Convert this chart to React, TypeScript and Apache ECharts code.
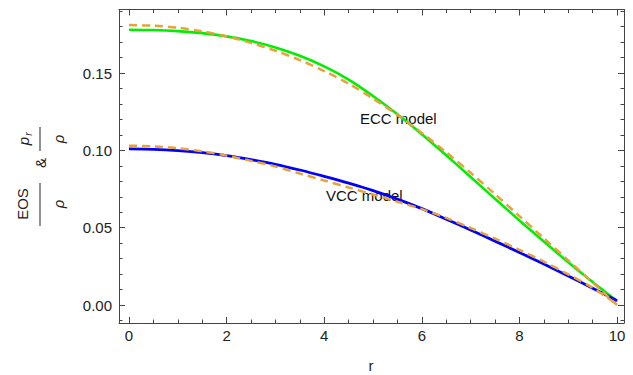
import React, { useEffect, useRef } from "react";
import * as echarts from "echarts";

const rValues = [0, 0.5, 1, 1.5, 2, 2.5, 3, 3.5, 4, 4.5, 5, 5.5, 6, 6.5, 7, 7.5, 8, 8.5, 9, 9.5, 10];
const eccModel = [0.178, 0.1778, 0.1771, 0.1758, 0.1737, 0.1707, 0.1666, 0.1612, 0.1543, 0.1458, 0.1352, 0.1233, 0.1104, 0.0968, 0.0828, 0.0687, 0.0547, 0.041, 0.0277, 0.0149, 0.0026];
const eccFit = [0.181, 0.1806, 0.1793, 0.177, 0.1737, 0.1695, 0.1644, 0.1584, 0.1513, 0.1432, 0.1335, 0.1229, 0.1113, 0.0988, 0.0855, 0.0717, 0.0575, 0.0432, 0.0289, 0.0146, 0.0];
const vccModel = [0.101, 0.1007, 0.0999, 0.0986, 0.0966, 0.094, 0.091, 0.0873, 0.0832, 0.0788, 0.074, 0.0685, 0.0623, 0.0555, 0.0485, 0.0413, 0.034, 0.0265, 0.0188, 0.0109, 0.0028];
const vccFit = [0.103, 0.1026, 0.1014, 0.0994, 0.0966, 0.0932, 0.0896, 0.085, 0.0805, 0.076, 0.0715, 0.0668, 0.062, 0.0563, 0.0498, 0.0429, 0.0357, 0.028, 0.0198, 0.0112, 0.0004];

const xMajorTicks = [0, 2, 4, 6, 8, 10];
const yMajorTicks = [0, 0.05, 0.1, 0.15];

const xMin = -0.205, xMax = 10.143;
const yMin = -0.01164, yMax = 0.1911;

const FRAME = "#444";
const FONT = '"Liberation Sans", Arial, sans-serif';

function pairs(ys: number[]) {
  return rValues.map((r, i) => [r, ys[i]]);
}

export default function App() {
  const ref = useRef<HTMLDivElement>(null);
  useEffect(() => {
    if (!ref.current) return;
    const chart = echarts.init(ref.current, undefined, { renderer: "svg" });
    const xMinor: number[] = [];
    for (let i = 0; i <= 20; i++) xMinor.push(i * 0.5);
    const yMinor: number[] = [];
    for (let i = -1; i <= 19; i++) yMinor.push(+(i * 0.01).toFixed(2));

    const gridRect = { left: 119, right: 9, top: 9.5, bottom: 52 };
    const majorX = (pos: string, labels: boolean) => ({
      type: "value", gridIndex: 0, position: pos, min: xMin, max: xMax,
      axisLine: { show: true, onZero: false, lineStyle: { color: FRAME, width: 1 } },
      axisTick: { show: true, inside: true, length: 6, customValues: xMajorTicks, lineStyle: { color: FRAME } },
      axisLabel: { show: labels, customValues: xMajorTicks, fontSize: 15, color: "#222", fontFamily: FONT, margin: 5 },
      splitLine: { show: false },
    });
    const minorX = (pos: string) => ({
      type: "value", gridIndex: 1, position: pos, min: xMin, max: xMax,
      axisLine: { show: false, onZero: false },
      axisTick: { show: true, inside: true, length: 3.5, customValues: xMinor, lineStyle: { color: FRAME } },
      axisLabel: { show: false },
      splitLine: { show: false },
    });
    const majorY = (pos: string, labels: boolean) => ({
      type: "value", gridIndex: 0, position: pos, min: yMin, max: yMax,
      axisLine: { show: true, onZero: false, lineStyle: { color: FRAME, width: 1 } },
      axisTick: { show: true, inside: true, length: 6, customValues: yMajorTicks, lineStyle: { color: FRAME } },
      axisLabel: { show: labels, customValues: yMajorTicks, fontSize: 15, color: "#222", fontFamily: FONT, margin: 7, formatter: (v: number) => v.toFixed(2) },
      splitLine: { show: false },
    });
    const minorY = (pos: string) => ({
      type: "value", gridIndex: 1, position: pos, min: yMin, max: yMax,
      axisLine: { show: false, onZero: false },
      axisTick: { show: true, inside: true, length: 3.5, customValues: yMinor, lineStyle: { color: FRAME } },
      axisLabel: { show: false },
      splitLine: { show: false },
    });

    const lineSeries = (data: number[], color: string, dashed: boolean, width: number) => ({
      type: "line", xAxisIndex: 0, yAxisIndex: 0,
      data: pairs(data), showSymbol: false, smooth: 0.3,
      lineStyle: { color, width, type: dashed ? [8, 5] : "solid" },
      silent: true,
    });

    const titleFont = (size: number, italic = false) => `${italic ? "italic " : ""}${size}px ${FONT}`;

    chart.setOption({
      animation: false,
      backgroundColor: "#fff",
      grid: [
        { ...gridRect },
        { ...gridRect },
      ],
      xAxis: [majorX("bottom", true), majorX("top", false), minorX("bottom"), minorX("top")],
      yAxis: [majorY("left", true), majorY("right", false), minorY("left"), minorY("right")],
      series: [
        lineSeries(eccModel, "#00ee00", false, 2.6),
        lineSeries(vccModel, "#0000ff", false, 2.8),
        lineSeries(eccFit, "#e8a23c", true, 2.5),
        lineSeries(vccFit, "#e8a23c", true, 2.5),
      ],
      graphic: [
        { type: "text", x: 360, y: 118, style: { text: "ECC model", font: titleFont(15), fill: "#111", align: "left", verticalAlign: "middle" } },
        { type: "text", x: 326, y: 195, style: { text: "VCC model", font: titleFont(15), fill: "#111", align: "left", verticalAlign: "middle" } },
        { type: "text", x: 371, y: 365, style: { text: "r", font: titleFont(15), fill: "#222", align: "center", verticalAlign: "middle" } },
        { type: "text", x: 22, y: 204, rotation: Math.PI / 2, style: { text: "EOS", font: titleFont(15), fill: "#222", align: "center", verticalAlign: "middle" } },
        { type: "line", shape: { x1: 40, y1: 183, x2: 40, y2: 226 }, style: { stroke: "#222", lineWidth: 1 } },
        { type: "text", x: 58, y: 204, rotation: Math.PI / 2, style: { text: "ρ", font: titleFont(15, true), fill: "#222", align: "center", verticalAlign: "middle" } },
        { type: "text", x: 40, y: 163, rotation: Math.PI / 2, style: { text: "&", font: titleFont(15), fill: "#222", align: "center", verticalAlign: "middle" } },
        { type: "text", x: 23, y: 141, rotation: Math.PI / 2, style: { text: "p", font: titleFont(15, true), fill: "#222", align: "center", verticalAlign: "middle" } },
        { type: "text", x: 28, y: 134, rotation: Math.PI / 2, style: { text: "r", font: titleFont(10, true), fill: "#222", align: "center", verticalAlign: "middle" } },
        { type: "line", shape: { x1: 40, y1: 127, x2: 40, y2: 151 }, style: { stroke: "#222", lineWidth: 1 } },
        { type: "text", x: 58, y: 139, rotation: Math.PI / 2, style: { text: "ρ", font: titleFont(15, true), fill: "#222", align: "center", verticalAlign: "middle" } },
      ],
    });
    return () => chart.dispose();
  }, []);
  return <div ref={ref} style={{ position: "fixed", left: 0, top: 0, width: 633, height: 375, background: "#fff" }} />;
}
